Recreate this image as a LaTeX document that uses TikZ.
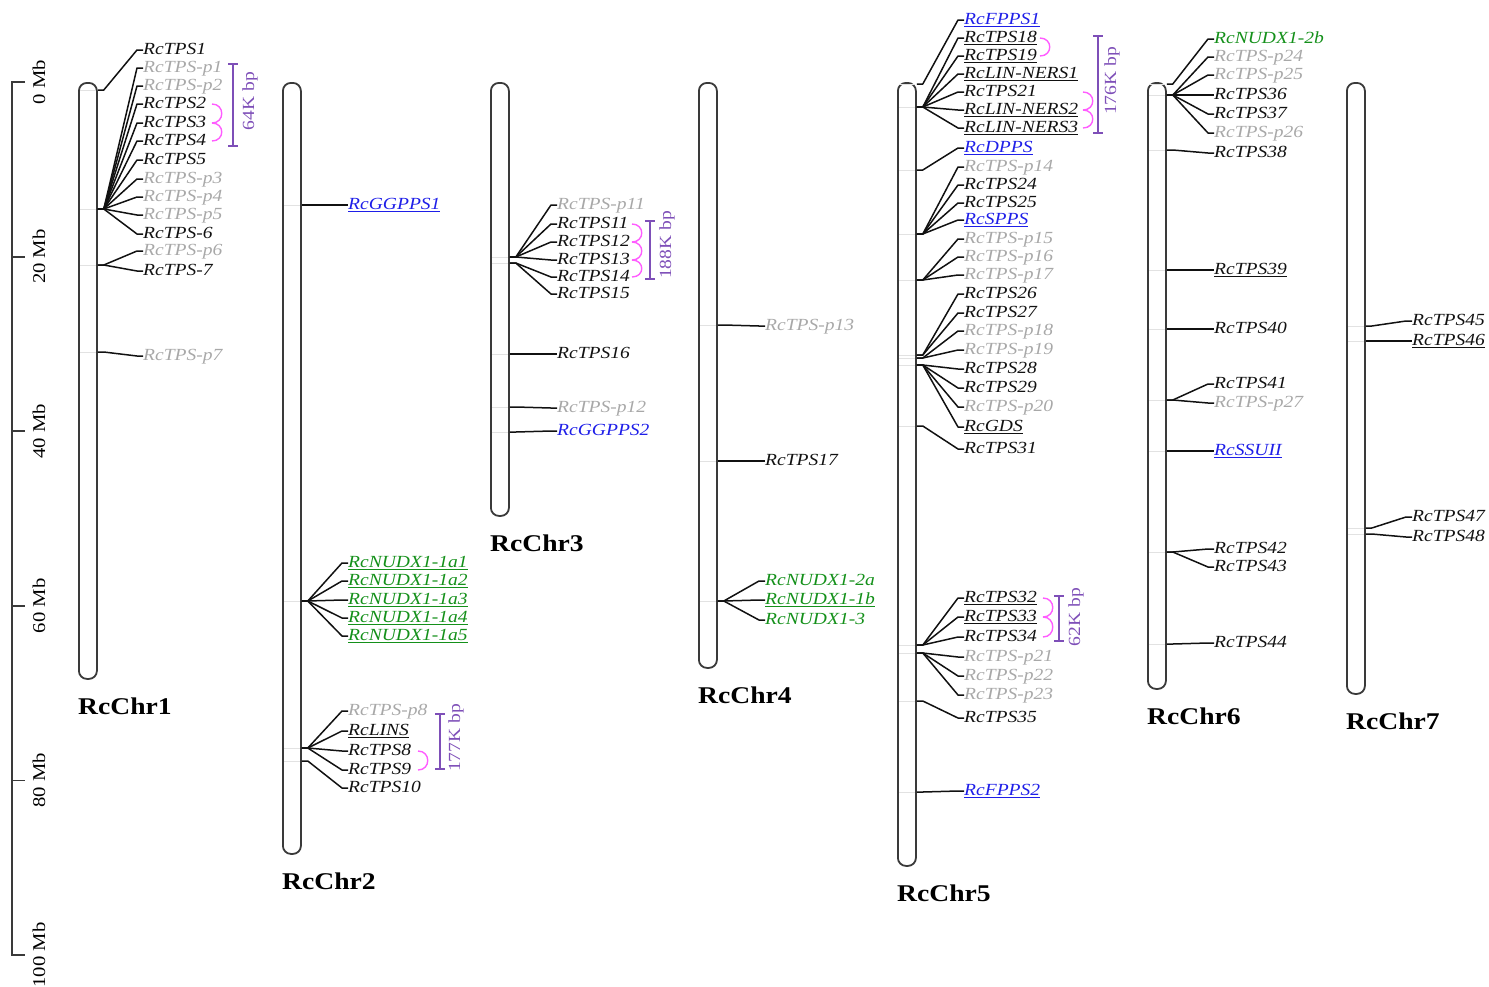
\documentclass[tikz,border=0pt]{standalone}
\usepackage{fontspec}
\setmainfont{Liberation Serif}[FakeStretch=1.15]
\usetikzlibrary{positioning}
\definecolor{Ink}{HTML}{111111}
\definecolor{Frame}{HTML}{3A3A3A}
\definecolor{Pale}{HTML}{A8A8A8}
\definecolor{Band}{HTML}{E2E2E2}
\definecolor{Cobalt}{HTML}{1E1EE8}
\definecolor{Leaf}{HTML}{14901A}
\definecolor{Violet}{HTML}{7E4FB8}
\definecolor{Orchid}{HTML}{FF5CFF}
\tikzset{
 chrom/.style={draw=Frame,line width=1.8pt,fill=white,rounded corners=8pt,minimum width=18pt,inner sep=0pt,anchor=north west},
 chrlab/.style={inner sep=0pt,font=\fontsize{24pt}{24pt}\selectfont\bfseries},
 gene/.style={anchor=west,inner sep=0pt,text height=12pt,text depth=3.5pt,font=\fontsize{17pt}{17pt}\selectfont\itshape},
 blk/.style={gene,text=Ink},
 gry/.style={gene,text=Pale},
 blu/.style={gene,text=Cobalt},
 grn/.style={gene,text=Leaf},
 band/.style={draw=Band,line width=1pt,shorten <=2pt,shorten >=2pt},
 conn/.style={draw=Ink,line width=1.5pt,line join=round},
 sizebar/.style={draw=Violet,line width=1.7pt},
 sizelab/.style={rotate=90,inner sep=0pt,text=Violet,font=\fontsize{17pt}{17pt}\selectfont},
 tandem/.style={draw=Orchid,line width=1.4pt},
 ruler/.style={draw=Frame,line width=1.8pt},
 rulerlab/.style={rotate=90,inner sep=0pt,font=\fontsize{18pt}{18pt}\selectfont}
}
\begin{document}
\begin{tikzpicture}[x=1pt,y=-1pt]
\useasboundingbox (0,0) rectangle (1489,986);
% scale bar
\draw[ruler] (25,82) -- (12,82) -- (12,955) -- (25,955);
\foreach \v in {0,20,...,100}{
 \draw[ruler] (12,{82+8.73*\v}) -- ++(13,0);
 \node[rulerlab] (mb\v) at (39,{82+8.73*\v}) {\v\ Mb};
}
% chromosomes
\node[chrom,minimum height=596pt] (chr1) at (78,82) {};
\node[chrom,minimum height=771pt] (chr2) at (282,82) {};
\node[chrom,minimum height=433pt] (chr3) at (490,82) {};
\node[chrom,minimum height=585pt] (chr4) at (698,82) {};
\node[chrom,minimum height=783pt] (chr5) at (897,82) {};
\node[chrom,minimum height=606pt] (chr6) at (1147,82) {};
\node[chrom,minimum height=611pt] (chr7) at (1346,82) {};
\foreach \c in {1,...,7}
 \node[chrlab,below right=18pt and 0pt of chr\c.south west] (lab\c) {RcChr\c};
% RcChr1
\foreach \n/\t/\y/\p/\s in {t1/RcTPS1/50/90/blk,p1/RcTPS-p1/68/209/gry,p2/RcTPS-p2/86/209/gry,
 t2/RcTPS2/104/209/blk,t3/RcTPS3/123/209/blk,t4/RcTPS4/141/209/blk,t5/RcTPS5/160/209/blk,
 p3/RcTPS-p3/179/209/gry,p4/RcTPS-p4/197/209/gry,p5/RcTPS-p5/215/209/gry,t6/RcTPS-6/234/209/blk,
 p6/RcTPS-p6/251/265/gry,t7/RcTPS-7/271/265/blk,p7/RcTPS-p7/356/352/gry}{
 \draw[band] (chr1.west |- 0,\p) -- (chr1.east |- 0,\p);
 \coordinate (\n-m) at (chr1.east |- 0,\p);
 \node[\s] (\n) at (143,\y) {\t};
 \draw[conn] (\n-m) -- ++(6,0) -- ([xshift=-6pt]\n.west) -- (\n.west);
}
\draw[sizebar] (228,64) -- (238,64) (233,64) -- (233,146) (228,146) -- (238,146);
\node[sizelab] (k1) at (250,101) {64K bp};
\draw[tandem] (212,104) .. controls (225,104) and (225,123) .. (212,123);
\draw[tandem] (212,123) .. controls (225,123) and (225,141) .. (212,141);
% RcChr2
\foreach \n/\t/\y/\p/\s in {gg1/{\underline{RcGGPPS1}}/205/205/blu,
 n1a1/{\underline{RcNUDX1-1a1}}/563/601/grn,n1a2/{\underline{RcNUDX1-1a2}}/581/601/grn,
 n1a3/{\underline{RcNUDX1-1a3}}/600/601/grn,n1a4/{\underline{RcNUDX1-1a4}}/618/601/grn,
 n1a5/{\underline{RcNUDX1-1a5}}/636/601/grn,
 p8/RcTPS-p8/711/748/gry,lins/{\underline{RcLINS}}/731/748/blk,t8/RcTPS8/751/748/blk,
 t9/RcTPS9/770/748/blk,t10/RcTPS10/788/761/blk}{
 \draw[band] (chr2.west |- 0,\p) -- (chr2.east |- 0,\p);
 \coordinate (\n-m) at (chr2.east |- 0,\p);
 \node[\s] (\n) at (348,\y) {\t};
 \draw[conn] (\n-m) -- ++(6,0) -- ([xshift=-6pt]\n.west) -- (\n.west);
}
\draw[sizebar] (435,714) -- (445,714) (440,714) -- (440,769) (435,769) -- (445,769);
\node[sizelab] (k2) at (456,738) {177K bp};
\draw[tandem] (418,751) .. controls (431,751) and (431,770) .. (418,770);
% RcChr3
\foreach \n/\t/\y/\p/\s in {p11/RcTPS-p11/205/257/gry,t11/RcTPS11/224/257/blk,
 t12/RcTPS12/242/257/blk,t13/RcTPS13/260/257/blk,t14/RcTPS14/277/263/blk,
 t15/RcTPS15/294/263/blk,t16/RcTPS16/354/354/blk,p12/RcTPS-p12/408/407/gry,
 gg2/RcGGPPS2/431/432/blu}{
 \draw[band] (chr3.west |- 0,\p) -- (chr3.east |- 0,\p);
 \coordinate (\n-m) at (chr3.east |- 0,\p);
 \node[\s] (\n) at (557,\y) {\t};
 \draw[conn] (\n-m) -- ++(6,0) -- ([xshift=-6pt]\n.west) -- (\n.west);
}
\draw[sizebar] (645,221) -- (655,221) (650,221) -- (650,279) (645,279) -- (655,279);
\node[sizelab] (k3) at (667,245) {188K bp};
\draw[tandem] (632,224) .. controls (645,224) and (645,242) .. (632,242);
\draw[tandem] (632,242) .. controls (645,242) and (645,260) .. (632,260);
\draw[tandem] (632,260) .. controls (645,260) and (645,277) .. (632,277);
% RcChr4
\foreach \n/\t/\y/\p/\s in {p13/RcTPS-p13/326/325/gry,t17/RcTPS17/461/461/blk,
 n2a/RcNUDX1-2a/581/601/grn,n1b/{\underline{RcNUDX1-1b}}/600/601/grn,n3/RcNUDX1-3/620/601/grn}{
 \draw[band] (chr4.west |- 0,\p) -- (chr4.east |- 0,\p);
 \coordinate (\n-m) at (chr4.east |- 0,\p);
 \node[\s] (\n) at (765,\y) {\t};
 \draw[conn] (\n-m) -- ++(6,0) -- ([xshift=-6pt]\n.west) -- (\n.west);
}
% RcChr5
\foreach \n/\t/\y/\p/\s in {fp1/{\underline{RcFPPS1}}/20/84/blu,
 t18/{\underline{RcTPS18}}/38/107/blk,t19/{\underline{RcTPS19}}/56/107/blk,
 ln1/{\underline{RcLIN-NERS1}}/74/107/blk,t21/RcTPS21/92/107/blk,
 ln2/{\underline{RcLIN-NERS2}}/110/107/blk,ln3/{\underline{RcLIN-NERS3}}/128/107/blk,
 dpps/{\underline{RcDPPS}}/148/170/blu,p14/RcTPS-p14/167/234/gry,t24/RcTPS24/185/234/blk,
 t25/RcTPS25/203/234/blk,spps/{\underline{RcSPPS}}/220/234/blu,
 p15/RcTPS-p15/239/280/gry,p16/RcTPS-p16/257/280/gry,p17/RcTPS-p17/275/280/gry,
 t26/RcTPS26/294/355/blk,t27/RcTPS27/313/355/blk,p18/RcTPS-p18/331/358/gry,
 p19/RcTPS-p19/350/358/gry,t28/RcTPS28/369/365/blk,t29/RcTPS29/388/365/blk,
 p20/RcTPS-p20/407/365/gry,gds/{\underline{RcGDS}}/427/365/blk,t31/RcTPS31/449/426/blk,
 t32/{\underline{RcTPS32}}/598/645/blk,t33/{\underline{RcTPS33}}/617/645/blk,
 t34/RcTPS34/637/645/blk,p21/RcTPS-p21/657/653/gry,p22/RcTPS-p22/676/653/gry,
 p23/RcTPS-p23/695/653/gry,t35/RcTPS35/718/701/blk,fp2/{\underline{RcFPPS2}}/791/792/blu}{
 \draw[band] (chr5.west |- 0,\p) -- (chr5.east |- 0,\p);
 \coordinate (\n-m) at (chr5.east |- 0,\p);
 \node[\s] (\n) at (964,\y) {\t};
 \draw[conn] (\n-m) -- ++(6,0) -- ([xshift=-6pt]\n.west) -- (\n.west);
}
\draw[sizebar] (1093,36) -- (1103,36) (1098,36) -- (1098,133) (1093,133) -- (1103,133);
\node[sizelab] (k4) at (1112,81) {176K bp};
\draw[tandem] (1040,38) .. controls (1053,38) and (1053,56) .. (1040,56);
\draw[tandem] (1083,92) .. controls (1096,92) and (1096,110) .. (1083,110);
\draw[tandem] (1083,110) .. controls (1096,110) and (1096,128) .. (1083,128);
\draw[sizebar] (1054,596) -- (1064,596) (1059,596) -- (1059,641) (1054,641) -- (1064,641);
\node[sizelab] (k5) at (1076,617) {62K bp};
\draw[tandem] (1043,598) .. controls (1056,598) and (1056,617) .. (1043,617);
\draw[tandem] (1043,617) .. controls (1056,617) and (1056,637) .. (1043,637);
% RcChr6
\foreach \n/\t/\y/\p/\s in {n2b/RcNUDX1-2b/39/84/grn,p24/RcTPS-p24/57/95/gry,
 p25/RcTPS-p25/75/95/gry,t36/RcTPS36/95/95/blk,t37/RcTPS37/114/95/blk,
 p26/RcTPS-p26/133/95/gry,t38/RcTPS38/153/150/blk,t39/{\underline{RcTPS39}}/270/270/blk,
 t40/RcTPS40/329/329/blk,t41/RcTPS41/384/400/blk,p27/RcTPS-p27/403/400/gry,
 ssu/{\underline{RcSSUII}}/451/451/blu,t42/RcTPS42/549/552/blk,t43/RcTPS43/567/552/blk,
 t44/RcTPS44/643/644/blk}{
 \draw[band] (chr6.west |- 0,\p) -- (chr6.east |- 0,\p);
 \coordinate (\n-m) at (chr6.east |- 0,\p);
 \node[\s] (\n) at (1214,\y) {\t};
 \draw[conn] (\n-m) -- ++(6,0) -- ([xshift=-6pt]\n.west) -- (\n.west);
}
% RcChr7
\foreach \n/\t/\y/\p/\s in {t45/RcTPS45/321/326/blk,t46/{\underline{RcTPS46}}/341/341/blk,
 t47/RcTPS47/517/528/blk,t48/RcTPS48/537/534/blk}{
 \draw[band] (chr7.west |- 0,\p) -- (chr7.east |- 0,\p);
 \coordinate (\n-m) at (chr7.east |- 0,\p);
 \node[\s] (\n) at (1412,\y) {\t};
 \draw[conn] (\n-m) -- ++(6,0) -- ([xshift=-6pt]\n.west) -- (\n.west);
}
\end{tikzpicture}
\end{document}
